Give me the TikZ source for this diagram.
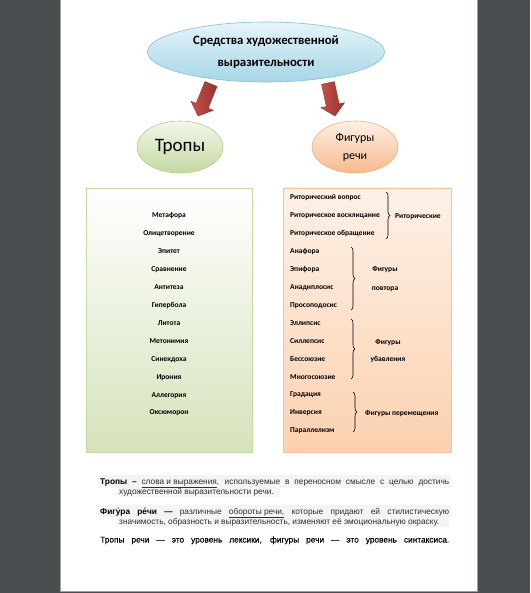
\documentclass[tikz,border=0pt]{standalone}
\usepackage{fontspec}
\setmainfont{Carlito}
\newfontfamily\farial{Liberation Sans}
\newfontfamily\farialsemi[FakeBold=0.25]{Liberation Sans}
\usetikzlibrary{calc,decorations.pathreplacing,shapes.geometric}
\definecolor{bgc}{HTML}{4B4E51}
\definecolor{pageline}{HTML}{A0A0A0}
\definecolor{blueT}{HTML}{E6F4F9}
\definecolor{blueB}{HTML}{A6D6E6}
\definecolor{blueD}{HTML}{86C0D4}
\definecolor{greenT}{HTML}{F3F8EA}
\definecolor{greenB}{HTML}{C3D8A0}
\definecolor{greenD}{HTML}{B4CC8A}
\definecolor{orT}{HTML}{FDF0E6}
\definecolor{orB}{HTML}{F8B98D}
\definecolor{orD}{HTML}{F1AE80}
\definecolor{boxgB}{HTML}{D5E3BB}
\definecolor{boxgD}{HTML}{C5D8A6}
\definecolor{boxoT}{HTML}{FDF1E7}
\definecolor{boxoB}{HTML}{FBD1B0}
\definecolor{boxoD}{HTML}{F6C29C}
\definecolor{arrL}{HTML}{C8504B}
\definecolor{arrR}{HTML}{983230}
\definecolor{arrD}{HTML}{8A2B29}
\definecolor{txt}{HTML}{2E2E2E}
\definecolor{hl}{HTML}{F4F4F4}
\begin{document}
\begin{tikzpicture}[x=1pt,y=-1pt,
  item/.style={font=\bfseries\fontsize{7.5}{9}\selectfont, inner sep=0pt, anchor=base},
  ritem/.style={item, anchor=base west},
  bline/.style={font=\farial\fontsize{8.3}{10}\selectfont, inner sep=0pt, anchor=base west, text=txt},
  brc/.style={decorate, decoration={brace, amplitude=4pt}, line width=0.6pt},
  barrow/.style={left color=arrL, right color=arrR, draw=arrD, line width=0.4pt}]
\useasboundingbox (0,0) rectangle (530,593);
\fill[bgc] (0,0) rectangle (530,593);
\draw[fill=white, draw=pageline, line width=0.8pt] (60,-2) rectangle (477,591);

% block arrows
\coordinate (s1) at (211,84);
\coordinate (e1) at (198,116);
\coordinate (s2) at (328,83);
\coordinate (e2) at (335,116);
\coordinate (h1) at ($(e1)!11pt!(s1)$);
\coordinate (h2) at ($(e2)!11pt!(s2)$);
\path[barrow] ($(s1)!6.5pt!90:(e1)$) -- ($(h1)!6.5pt!-90:(s1)$) -- ($(h1)!12pt!-90:(s1)$) -- (e1)
  -- ($(h1)!12pt!90:(s1)$) -- ($(h1)!6.5pt!90:(s1)$) -- ($(s1)!6.5pt!-90:(e1)$) -- cycle;
\path[barrow] ($(s2)!6.5pt!90:(e2)$) -- ($(h2)!6.5pt!-90:(s2)$) -- ($(h2)!12pt!-90:(s2)$) -- (e2)
  -- ($(h2)!12pt!90:(s2)$) -- ($(h2)!6.5pt!90:(s2)$) -- ($(s2)!6.5pt!-90:(e2)$) -- cycle;

% ellipses
\node[ellipse, minimum width=237pt, minimum height=60pt, top color=blueT, bottom color=blueB,
  draw=blueD, line width=0.6pt, align=center, font=\bfseries\fontsize{12.8}{22}\selectfont]
  (top) at (266,52) {Средства художественной\\выразительности};
\node[ellipse, minimum width=86pt, minimum height=52pt, top color=greenT, bottom color=greenB,
  draw=greenD, line width=0.6pt, font=\fontsize{19}{22}\selectfont] (tropy) at (180,147) {Тропы};
\node[ellipse, minimum width=86pt, minimum height=52pt, top color=orT, bottom color=orB,
  draw=orD, line width=0.6pt, align=center, font=\fontsize{12}{18}\selectfont] (figury) at (355,147) {Фигуры\\речи};

% boxes
\draw[top color=white, bottom color=boxgB, draw=boxgD, line width=0.8pt] (86,188) rectangle (252,452);
\draw[top color=boxoT, bottom color=boxoB, draw=boxoD, line width=0.8pt] (283,188) rectangle (451,452);

% left items
\foreach \t [count=\i from 0] in {Метафора,Олицетворение,Эпитет,Сравнение,Антитеза,Гипербола,Литота,Метонимия,Синекдоха,Ирония,Аллегория,Оксюморон}
  \node[item] (l\i) at (169,{218+17.9*\i}) {\t};

% right items
\foreach \t [count=\i from 0] in {Риторический вопрос,Риторическое восклицание,Риторическое обращение,Анафора,Эпифора,Анадиплосис,Просоподосис,Эллипсис,Силлепсис,Бессоюзие,Многосоюзие,Градация,Инверсия,Параллелизм}
  \node[ritem] (r\i) at (290,{200+17.9*\i}) {\t};

% braces
\coordinate (b1a) at (386,192); \coordinate (b1b) at (386,239);
\coordinate (b2a) at (351,247); \coordinate (b2b) at (351,310);
\coordinate (b3a) at (351,319); \coordinate (b3b) at (351,379);
\coordinate (b4a) at (353,392); \coordinate (b4b) at (353,432);
\draw[brc] (b1a) -- (b1b);
\draw[brc] (b2a) -- (b2b);
\draw[brc] (b3a) -- (b3b);
\draw[brc] (b4a) -- (b4b);
\node[ritem] (g1) at (395,218.5) {Риторические};
\node[item] (g2a) at (385,271.5) {Фигуры};
\node[item] (g2b) at (385,290.5) {повтора};
\node[item] (g3a) at (388,344.5) {Фигуры};
\node[item] (g3b) at (388,361.5) {убавления};
\node[ritem] (g4) at (365,415.5) {Фигуры перемещения};

% bottom text
\fill[hl] (98,475) rectangle (451,488);
\fill[hl] (117,487) rectangle (280,497);
\fill[hl] (98,505) rectangle (451,517);
\fill[hl] (117,516) rectangle (449,527);
\node[bline] (p1a) at (100,484.5) {\makebox[349pt][s]{\textcolor{black}{\bfseries Тропы –} \underline{слова и выражения}, используемые в переносном смысле с целью достичь}};
\node[bline] (p1b) at (119,494.5) {художественной выразительности речи.};
\node[bline] (p2a) at (100,514.5) {\makebox[349pt][s]{\textcolor{black}{\bfseries Фигу́ра ре́чи —} различные \underline{обороты речи,} которые придают ей стилистическую}};
\node[bline] (p2b) at (119,524.5) {значимость, образность и выразительность, изменяют её эмоциональную окраску.};
\node[bline, text=black, font=\farialsemi\fontsize{8.3}{10}\selectfont] (p3) at (100,542.5) {\makebox[349pt][s]{Тропы речи — это уровень лексики, фигуры речи — это уровень синтаксиса.}};
\end{tikzpicture}
\end{document}
